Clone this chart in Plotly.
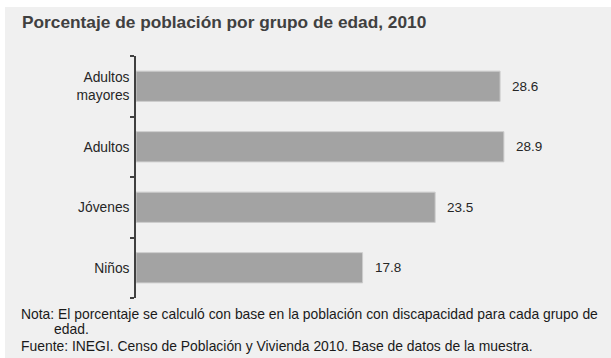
import plotly.graph_objects as go

categories = ["Niños", "Jóvenes", "Adultos", "Adultos<br>mayores"]
values = [17.8, 23.5, 28.9, 28.6]
value_labels = ["17.8", "23.5", "28.9", "28.6"]

title_text = "<b>Porcentaje de población por grupo de edad, 2010</b>"
note_line1 = "Nota: El porcentaje se calculó con base en la población con discapacidad para cada grupo de"
note_line2 = "edad."
source_line = "Fuente: INEGI. Censo de Población y Vivienda 2010. Base de datos de la muestra."

W, H = 611, 358
ML, MR, MT, MB = 136, 21, 56, 60
PW, PH = W - ML - MR, H - MT - MB

def px_x(px):
    return (px - ML) / PW

def px_y(py):
    return (H - MB - py) / PH

fig = go.Figure()
fig.add_trace(go.Bar(
    x=values, y=categories, orientation="h",
    marker=dict(color="#a3a3a3", line=dict(color="#cdcdcd", width=1)),
    width=0.5, hoverinfo="skip",
))

annotations = []
for v, c, t in zip(values, categories, value_labels):
    annotations.append(dict(x=v, y=c, xref="x", yref="y", text=t, showarrow=False,
                            xanchor="left", yanchor="middle", xshift=10,
                            font=dict(family="Liberation Sans, Arial", size=13.5, color="#262626")))

annotations += [
    dict(x=px_x(20), y=px_y(22), xref="paper", yref="paper", text=title_text, showarrow=False,
         xanchor="left", yanchor="middle",
         font=dict(family="Liberation Sans, Arial", size=17.3, color="#404040")),
    dict(x=px_x(19), y=px_y(314), xref="paper", yref="paper", text=note_line1, showarrow=False,
         xanchor="left", yanchor="middle",
         font=dict(family="Liberation Sans, Arial", size=13.9, color="#1a1a1a")),
    dict(x=px_x(52), y=px_y(329), xref="paper", yref="paper", text=note_line2, showarrow=False,
         xanchor="left", yanchor="middle",
         font=dict(family="Liberation Sans, Arial", size=13.9, color="#1a1a1a")),
    dict(x=px_x(19), y=px_y(346), xref="paper", yref="paper", text=source_line, showarrow=False,
         xanchor="left", yanchor="middle",
         font=dict(family="Liberation Sans, Arial", size=13.9, color="#1a1a1a")),
]

shapes = [
    dict(type="rect", xref="paper", yref="paper", x0=px_x(0), x1=px_x(W), y0=px_y(7), y1=px_y(0),
         fillcolor="white", line=dict(width=0), layer="below"),
    dict(type="rect", xref="paper", yref="paper", x0=px_x(0), x1=px_x(5), y0=px_y(H), y1=px_y(0),
         fillcolor="white", line=dict(width=0), layer="below"),
]

fig.update_layout(
    width=W, height=H,
    margin=dict(l=ML, r=MR, t=MT, b=MB, pad=0),
    paper_bgcolor="#f0f0f0", plot_bgcolor="#f0f0f0",
    showlegend=False,
    annotations=annotations, shapes=shapes,
    xaxis=dict(range=[0, PW / 12.73], visible=False, fixedrange=True),
    yaxis=dict(range=[-0.5, 3.5], showline=True, linecolor="#404040", linewidth=1.5,
               ticks="outside", tickson="boundaries", ticklen=4, tickcolor="#404040", tickwidth=1.5,
               showgrid=False, zeroline=False, ticklabelstandoff=2,
               tickfont=dict(family="Liberation Sans, Arial", size=13.8, color="#262626"),
               fixedrange=True),
    font=dict(family="Liberation Sans, Arial"),
)

fig.write_html("out.html", config={"displayModeBar": False})
